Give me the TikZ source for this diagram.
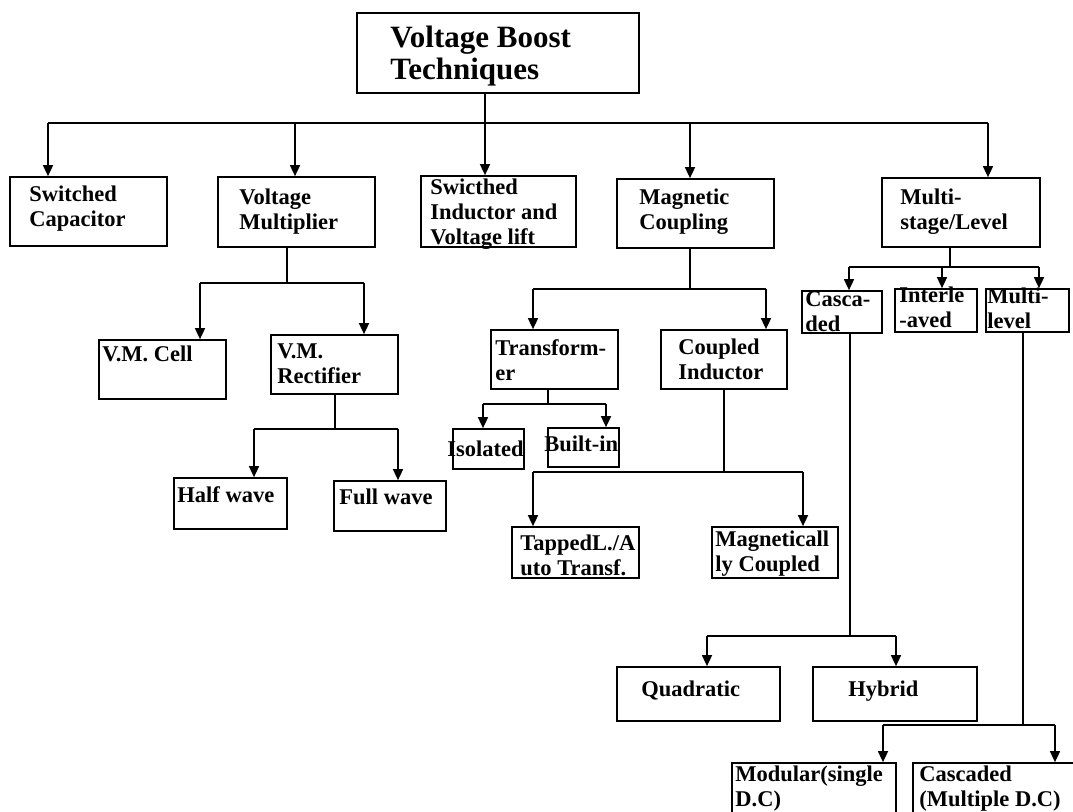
\documentclass[tikz,border=0pt]{standalone}
\usepackage{fontspec}
\setmainfont{Liberation Serif}
\usetikzlibrary{arrows.meta}

% box from (x1,y1) to (x2,y2), picture units are pixels
\newcommand{\boxat}[5]{\node[box, minimum width={(#4-#2)*0.5pt}, minimum height={(#5-#3)*0.5pt}] (#1) at ({(#2+#4)/2},{(#3+#5)/2}) {};}

\begin{document}
\begin{tikzpicture}[x=0.5pt, y=-0.5pt,
    box/.style={draw, line width=0.85pt, inner sep=0pt},
    lbl/.style={anchor=base west, inner sep=0pt, align=left, font=\fontsize{11.25}{12.5}\selectfont\bfseries},
    wire/.style={line width=0.8pt},
    arr/.style={line width=0.8pt, -{Triangle[width=5pt,length=5.5pt]}}]
  \clip (0,0) rectangle (1073,812);

  % top level (labels sit on the baseline of their last line)
  \boxat{root}{357}{13}{639}{93}
  \node[lbl, font=\fontsize{15.5}{16}\selectfont\bfseries] (root-t) at (390,80) {Voltage Boost\\Techniques};
  \boxat{sc}{10}{177}{167}{246}
  \node[lbl] (sc-t) at (29,227) {Switched\\Capacitor};
  \boxat{vm}{218}{177}{375}{247}
  \node[lbl] (vm-t) at (239,230) {Voltage\\Multiplier};
  \boxat{si}{421}{176}{576}{247}
  \node[lbl] (si-t) at (430,245) {Swicthed\\Inductor and\\Voltage lift};
  \boxat{mc}{617}{179}{774}{248}
  \node[lbl] (mc-t) at (639,230) {Magnetic\\Coupling};
  \boxat{ms}{882}{178}{1040}{247}
  \node[lbl] (ms-t) at (900,230) {Multi-\\stage/Level};

  % voltage multiplier branch
  \boxat{vmc}{99}{340}{226}{399}
  \node[lbl] (vmc-t) at (102,362) {V.M. Cell};
  \boxat{vmr}{271}{335}{398}{394}
  \node[lbl] (vmr-t) at (277,384) {V.M.\\Rectifier};
  \boxat{hw}{174}{478}{287}{529}
  \node[lbl] (hw-t) at (177,503) {Half wave};
  \boxat{fw}{334}{481}{446}{531}
  \node[lbl] (fw-t) at (339,505) {Full wave};

  % magnetic coupling branch
  \boxat{tr}{491}{330}{618}{389}
  \node[lbl] (tr-t) at (495,381) {Transform-\\er};
  \boxat{ci}{661}{330}{787}{389}
  \node[lbl] (ci-t) at (678,380) {Coupled\\Inductor};
  \boxat{iso}{453}{429}{524}{469}
  \node[lbl] (iso-t) at (447,457) {Isolated};
  \boxat{bi}{548}{428}{619}{467}
  \node[lbl] (bi-t) at (544,452) {Built-in};
  \boxat{tap}{512}{527}{639}{578}
  \node[lbl] (tap-t) at (520,576) {TappedL./A\\uto Transf.};
  \boxat{mag}{712}{527}{838}{578}
  \node[lbl] (mag-t) at (715,572) {Magneticall\\ly Coupled};

  % multi-stage branch
  \boxat{casc}{802}{291}{882}{333}
  \node[lbl] (casc-t) at (805,332) {Casca-\\ded};
  \boxat{intl}{895}{289}{977}{332}
  \node[lbl] (intl-t) at (899,328) {Interle\\-aved};
  \boxat{mlv}{986}{289}{1069}{332}
  \node[lbl] (mlv-t) at (987,329) {Multi-\\level};
  \boxat{quad}{617}{667}{780}{721}
  \node[lbl] (quad-t) at (641,697) {Quadratic};
  \boxat{hyb}{813}{667}{977}{721}
  \node[lbl] (hyb-t) at (848,697) {Hybrid};
  \boxat{mod}{732}{763}{896}{840}
  \node[lbl] (mod-t) at (735,807) {Modular(single\\D.C)};
  \boxat{cmdc}{913}{763}{1090}{840}
  \node[lbl] (cmdc-t) at (919,807) {Cascaded\\(Multiple D.C)};

  % junctions
  \coordinate (m1) at (48,123);  \coordinate (m2) at (295,123);
  \coordinate (m3) at (485,123); \coordinate (m4) at (690,123);
  \coordinate (m5) at (988,123);
  \coordinate (v0) at (287,283); \coordinate (v1) at (200,283); \coordinate (v2) at (364,283);
  \coordinate (r0) at (335,429); \coordinate (r1) at (254,429); \coordinate (r2) at (398,429);
  \coordinate (c0) at (690,289); \coordinate (c1) at (533,289); \coordinate (c2) at (766,289);
  \coordinate (t0) at (548,404); \coordinate (t1) at (483,404); \coordinate (t2) at (606,404);
  \coordinate (k0) at (724,472); \coordinate (k1) at (533,472); \coordinate (k2) at (803,472);
  \coordinate (s0) at (950,267); \coordinate (s1) at (849,267);
  \coordinate (s2) at (942,267); \coordinate (s3) at (1039,267);
  \coordinate (q0) at (850,636); \coordinate (q1) at (707,636); \coordinate (q2) at (896,636);
  \coordinate (l0) at (1023,725); \coordinate (l1) at (883,725); \coordinate (l2) at (1055,725);

  % connectors
  \draw[wire] (root.south -| m3) -- (m3);
  \draw[wire] (m1) -- (m5);
  \draw[arr] (m1) -- (m1 |- sc.north);
  \draw[arr] (m2) -- (m2 |- vm.north);
  \draw[arr] (m3) -- (m3 |- si.north);
  \draw[arr] (m4) -- (m4 |- mc.north);
  \draw[arr] (m5) -- (m5 |- ms.north);

  \draw[wire] (vm.south -| v0) -- (v0);
  \draw[wire] (v1) -- (v2);
  \draw[arr] (v1) -- (v1 |- vmc.north);
  \draw[arr] (v2) -- (v2 |- vmr.north);

  \draw[wire] (vmr.south -| r0) -- (r0);
  \draw[wire] (r1) -- (r2);
  \draw[arr] (r1) -- (r1 |- hw.north);
  \draw[arr] (r2) -- (r2 |- fw.north);

  \draw[wire] (mc.south -| c0) -- (c0);
  \draw[wire] (c1) -- (c2);
  \draw[arr] (c1) -- (c1 |- tr.north);
  \draw[arr] (c2) -- (c2 |- ci.north);

  \draw[wire] (tr.south -| t0) -- (t0);
  \draw[wire] (t1) -- (t2);
  \draw[arr] (t1) -- (t1 |- iso.north);
  \draw[arr] (t2) -- (t2 |- bi.north);

  \draw[wire] (ci.south -| k0) -- (k0);
  \draw[wire] (k1) -- (k2);
  \draw[arr] (k1) -- (k1 |- tap.north);
  \draw[arr] (k2) -- (k2 |- mag.north);

  \draw[wire] (ms.south -| s0) -- (s0);
  \draw[wire] (s1) -- (s3);
  \draw[arr] (s1) -- (s1 |- casc.north);
  \draw[arr] (s2) -- (s2 |- intl.north);
  \draw[arr] (s3) -- (s3 |- mlv.north);

  \draw[wire] (casc.south -| q0) -- (q0);
  \draw[wire] (q1) -- (q2);
  \draw[arr] (q1) -- (q1 |- quad.north);
  \draw[arr] (q2) -- (q2 |- hyb.north);

  \draw[wire] (mlv.south -| l0) -- (l0);
  \draw[wire] (l1) -- (l2);
  \draw[arr] (l1) -- (l1 |- mod.north);
  \draw[arr] (l2) -- (l2 |- cmdc.north);
\end{tikzpicture}
\end{document}
